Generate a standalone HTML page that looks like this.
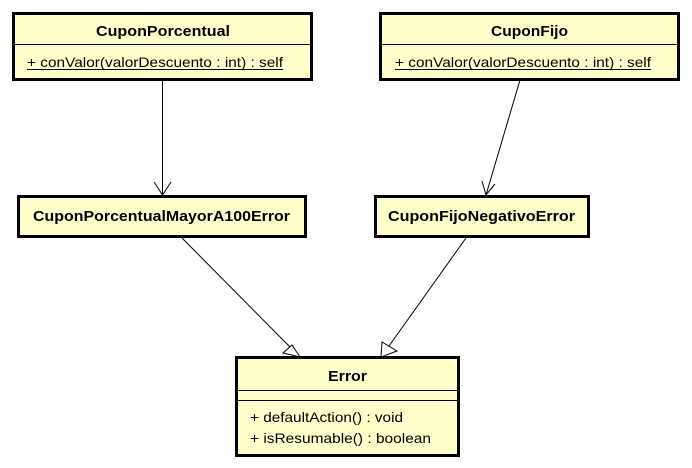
<!DOCTYPE html>
<html><head><meta charset="utf-8"><style>
html,body{margin:0;padding:0;background:#fff;}
svg{display:block;}
text{font-family:"Liberation Sans",Arial,sans-serif;font-size:14px;fill:#000;}
.b{font-weight:bold;font-size:14.5px;}
</style></head><body>
<svg width="692" height="468" viewBox="0 0 692 468">
<g fill="#ffffcc" stroke="#000" stroke-width="3">
<rect x="13.5" y="13.5" width="298" height="66"/>
<rect x="380.5" y="13.5" width="298" height="66"/>
<rect x="18.5" y="196.5" width="287" height="40"/>
<rect x="375.5" y="196.5" width="213" height="40"/>
<rect x="236.5" y="357.5" width="222" height="98"/>
</g>
<g stroke="#000" stroke-width="1" fill="none">
<line x1="15" y1="44.5" x2="310" y2="44.5"/>
<line x1="382" y1="44.5" x2="677" y2="44.5"/>
<line x1="238" y1="390.5" x2="457" y2="390.5"/>
<line x1="238" y1="400.5" x2="457" y2="400.5"/>
<line x1="162.5" y1="80" x2="162.5" y2="195"/>
<polyline points="154,182 162.5,195 171,182"/>
<line x1="520" y1="80" x2="486" y2="195"/>
<polyline points="482,181 486,195 495,184"/>
<line x1="182" y1="238" x2="292" y2="349"/>
<polygon points="300,357 283,353 292,345" fill="#fff"/>
<line x1="466" y1="238" x2="389" y2="346"/>
<polygon points="381,357 382,342 397,351" fill="#fff"/>
<line x1="27" y1="69.5" x2="283" y2="69.5"/>
<line x1="395" y1="69.5" x2="651" y2="69.5"/>
</g>
<text class="b" x="96" y="36" textLength="134" lengthAdjust="spacingAndGlyphs">CuponPorcentual</text>
<text class="b" x="491" y="36" textLength="77" lengthAdjust="spacingAndGlyphs">CuponFijo</text>
<text x="27" y="67" textLength="256" lengthAdjust="spacingAndGlyphs">+ conValor(valorDescuento : int) : self</text>
<text x="395" y="67" textLength="256" lengthAdjust="spacingAndGlyphs">+ conValor(valorDescuento : int) : self</text>
<text class="b" x="33" y="221" textLength="257" lengthAdjust="spacingAndGlyphs">CuponPorcentualMayorA100Error</text>
<text class="b" x="388" y="221" textLength="187" lengthAdjust="spacingAndGlyphs">CuponFijoNegativoError</text>
<text class="b" x="328" y="381" textLength="39" lengthAdjust="spacingAndGlyphs">Error</text>
<text x="250" y="422" textLength="153" lengthAdjust="spacingAndGlyphs">+ defaultAction() : void</text>
<text x="250" y="443" textLength="181" lengthAdjust="spacingAndGlyphs">+ isResumable() : boolean</text>
</svg>
</body></html>
